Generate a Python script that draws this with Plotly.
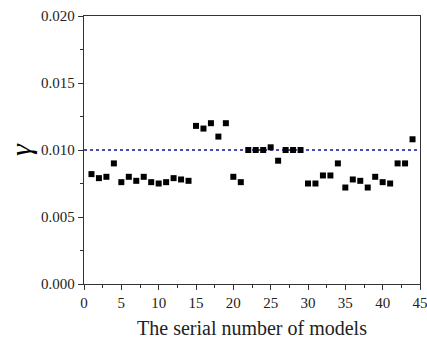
import plotly.graph_objects as go

models = list(range(1, 45))
gamma = [0.0082, 0.0079, 0.0080, 0.0090, 0.0076, 0.0080, 0.0077, 0.0080, 0.0076, 0.0075,
         0.0076, 0.0079, 0.0078, 0.0077, 0.0118, 0.0116, 0.0120, 0.0110, 0.0120, 0.0080,
         0.0076, 0.0100, 0.0100, 0.0100, 0.0102, 0.0092, 0.0100, 0.0100, 0.0100, 0.0075,
         0.0075, 0.0081, 0.0081, 0.0090, 0.0072, 0.0078, 0.0077, 0.0072, 0.0080, 0.0076,
         0.0075, 0.0090, 0.0090, 0.0108]
ref_x = [0, 45]
ref_y = [0.010, 0.010]

font = "Liberation Serif, Times New Roman, serif"

fig = go.Figure()
fig.add_trace(go.Scatter(x=ref_x, y=ref_y, mode="lines",
                         line=dict(color="#10109a", width=1.4, dash="dot"),
                         hoverinfo="skip", showlegend=False))
fig.add_trace(go.Scatter(x=models, y=gamma, mode="markers",
                         marker=dict(symbol="square", size=6, color="black"),
                         showlegend=False))

axis_common = dict(showline=True, linecolor="#333", linewidth=1.3, mirror=True,
                   ticks="outside", ticklen=5, tickwidth=1, tickcolor="#333",
                   showgrid=False, zeroline=False, ticklabeloverflow="allow",
                   automargin=False,
                   tickfont=dict(family=font, size=15, color="#222"))

fig.update_xaxes(range=[0, 45], dtick=5, tick0=0,
                 minor=dict(dtick=2.5, ticks="outside", ticklen=3, tickcolor="#333"),
                 title=dict(text="The serial number of models",
                            font=dict(family=font, size=20, color="#222"), standoff=10),
                 **axis_common)
fig.update_yaxes(range=[0, 0.020], dtick=0.005, tick0=0, tickformat=".3f",
                 minor=dict(dtick=0.0025, ticks="outside", ticklen=3, tickcolor="#333"),
                 title=dict(text="<i>γ</i>", font=dict(family=font, size=30, color="black"),
                            standoff=0),
                 **axis_common)

fig.update_layout(width=427, height=340, margin=dict(l=84, r=7, t=16, b=56),
                  paper_bgcolor="white", plot_bgcolor="white")

fig.write_html("out.html")
